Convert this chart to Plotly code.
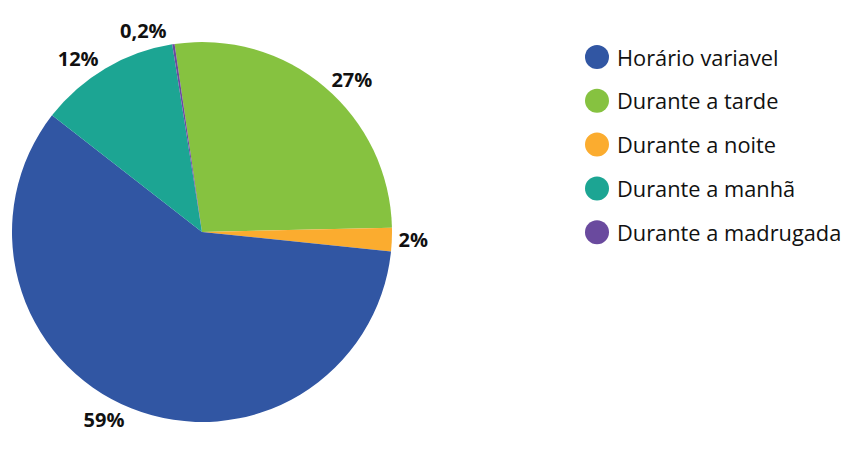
import plotly.graph_objects as go

# slice order (clockwise from top)
labels = ["Durante a tarde", "Durante a noite", "Horário variavel", "Durante a manhã", "Durante a madrugada"]
values = [27, 2, 59, 12, 0.2]
text_labels = ["27%", "2%", "59%", "12%", "0,2%"]
colors = ["#86C240", "#FBAC2F", "#3156A3", "#1CA593", "#6A4A9E"]

# legend order
legend_labels = ["Horário variavel", "Durante a tarde", "Durante a noite", "Durante a manhã", "Durante a madrugada"]

W, H = 853, 453
OFF = 8  # page body margin
cx, cy, r = 202 - OFF, 232 - OFF, 190

fig = go.Figure()
fig.add_trace(go.Pie(
    labels=labels, values=values, text=text_labels,
    texttemplate="%{text}", textposition="outside",
    textfont=dict(family="Open Sans", size=20, color="#111111", weight="bold"),
    marker=dict(colors=colors, line=dict(width=0)),
    sort=False, direction="clockwise", rotation=-8.3,
    showlegend=False, hoverinfo="label+percent",
    domain=dict(x=[(cx - r) / W, (cx + r) / W], y=[(H - cy - r) / H, (H - cy + r) / H]),
))

color_of = dict(zip(labels, colors))
shapes = []
annotations = []
y0, dy = 57 - OFF, 43.8
for i, lab in enumerate(legend_labels):
    yp = 1 - (y0 + i * dy) / H
    shapes.append(dict(type="circle", xref="paper", yref="paper", xsizemode="pixel", ysizemode="pixel",
                       xanchor=(597 - OFF) / W, yanchor=yp, x0=-12, x1=12, y0=-12, y1=12,
                       fillcolor=color_of[lab], line=dict(width=0)))
    annotations.append(dict(x=(615 - OFF) / W, y=yp, xref="paper", yref="paper", text=lab, showarrow=False,
                            xanchor="left", yanchor="middle",
                            font=dict(family="Open Sans", size=21.8, color="#111111")))

fig.update_layout(
    width=W, height=H, margin=dict(l=0, r=0, t=0, b=0),
    paper_bgcolor="white", plot_bgcolor="white",
    shapes=shapes, annotations=annotations,
)
fig.write_html("out.html")
